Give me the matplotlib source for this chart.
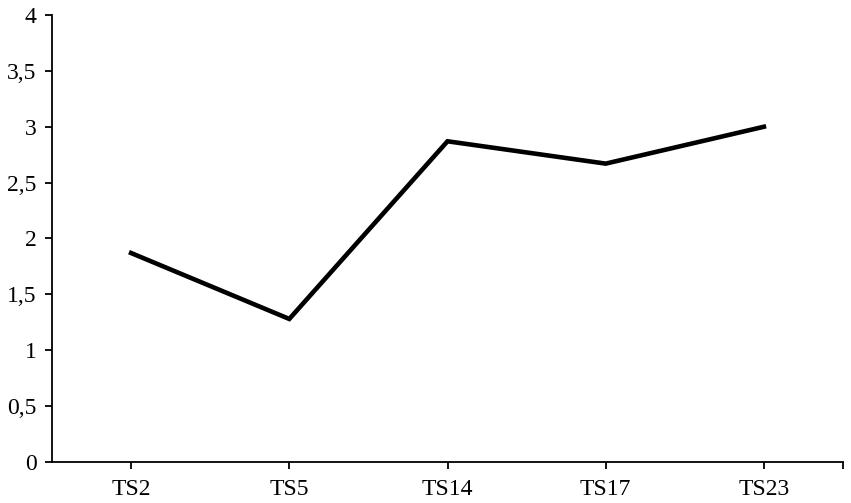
import matplotlib.pyplot as plt
import numpy as np

categorias = ["TS2", "TS5", "TS14", "TS17", "TS23"]
valores = [1.87, 1.28, 2.87, 2.67, 3.0]
y_ticks = [0, 0.5, 1, 1.5, 2, 2.5, 3, 3.5, 4]

plt.rcParams.update({
    'font.family': 'Liberation Serif',
    'font.size': 17,
})

fig = plt.figure(figsize=(8.51, 5.03), dpi=100)
ax = fig.add_axes([52 / 851, 41 / 503, 791 / 851, 447 / 503])

x = np.arange(len(categorias))
ax.plot(x, valores, color='black', linewidth=3.3, solid_joinstyle='miter')

ax.set_xlim(-0.5, len(categorias) - 0.5)
ax.set_ylim(0, 4)

ax.set_xticks(list(x) + [len(categorias) - 0.5])
ax.set_xticklabels(categorias + [""])
ax.set_yticks(y_ticks)
ax.set_yticklabels([f"{v:g}".replace(".", ",") for v in y_ticks])

for lado in ['top', 'right']:
    ax.spines[lado].set_visible(False)
for lado in ['left', 'bottom']:
    ax.spines[lado].set_linewidth(1.3)

ax.tick_params(axis='x', direction='out', length=5, width=1.3, pad=7)
ax.tick_params(axis='y', direction='out', length=5, width=1.3, pad=6)

fig.savefig("out.png", dpi=100)
